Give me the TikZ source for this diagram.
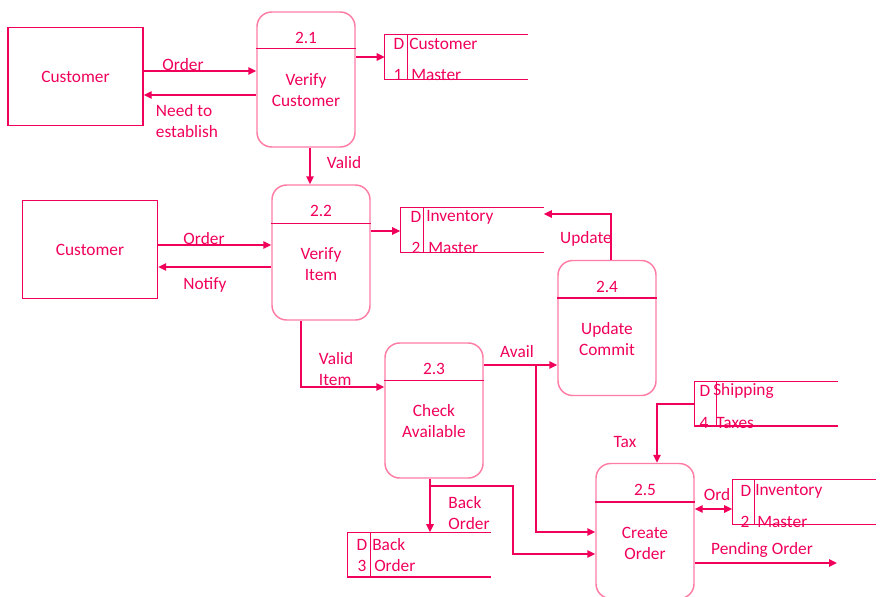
\documentclass[tikz,border=0pt]{standalone}
\usepackage{fontspec}
\setmainfont{Carlito}
\usetikzlibrary{arrows.meta,calc}

\definecolor{dfdpink}{RGB}{240,0,90}
\definecolor{procpink}{RGB}{255,125,165}

\tikzset{
  every node/.style={text=dfdpink, font=\fontsize{13pt}{15.75pt}\selectfont},
  ext/.style={rectangle, draw=dfdpink, line width=1.1pt, minimum width=101.25pt, minimum height=73.5pt},
  proc/.style={rectangle, rounded corners=11pt, draw=procpink, line width=1.1pt, minimum width=73.5pt, minimum height=101.25pt},
  store/.style={rectangle, inner sep=0pt, minimum width=107.25pt, minimum height=33pt},
  ptext/.style={align=center, inner sep=0pt, yshift=-0.75pt},
  stext/.style={anchor=west, inner sep=0pt, yshift=-0.75pt},
  lbl/.style={align=left, inner sep=0pt, yshift=-0.75pt},
  line/.style={draw=dfdpink, line width=1.1pt},
  flow/.style={line, -{Triangle[length=6pt,width=5.5pt]}},
}

\begin{document}
\begin{tikzpicture}[x=0.75pt, y=-0.75pt]
\clip (0,0) rectangle (884,596);

% external entities
\node[ext] (e1) at (75.5,76.5) {Customer};
\node[ext] (e2) at (90,249.5) {Customer};

% processes
\node[proc] (p1) at (306,79.5) {};
\node[proc] (p2) at (321,252.5) {};
\node[proc] (p3) at (434,410.5) {};
\node[proc] (p4) at (607,328) {};
\node[proc] (p5) at (645,531) {};
\node[ptext] (p1n) at ($(p1.north)+(0,26)$) {2.1};
\node[ptext] (p2n) at ($(p2.north)+(0,26)$) {2.2};
\node[ptext] (p3n) at ($(p3.north)+(0,26)$) {2.3};
\node[ptext] (p4n) at ($(p4.north)+(0,26)$) {2.4};
\node[ptext] (p5n) at ($(p5.north)+(0,26)$) {2.5};
\node[ptext] (p1t) at ($(p1.north)+(0,78)$) {Verify\\Customer};
\node[ptext] (p2t) at ($(p2.north)+(0,79)$) {Verify\\Item};
\node[ptext] (p3t) at ($(p3.north)+(0,78)$) {Check\\Available};
\node[ptext] (p4t) at ($(p4.north)+(0,78)$) {Update\\Commit};
\node[ptext] (p5t) at ($(p5.north)+(0,80)$) {Create\\Order};
\draw[line] ($(p1.north west)+(0,37)$) -- ($(p1.north east)+(0,37)$);
\draw[line] ($(p2.north west)+(0,39)$) -- ($(p2.north east)+(0,39)$);
\draw[line] ($(p3.north west)+(0,38)$) -- ($(p3.north east)+(0,38)$);
\draw[line] ($(p4.north west)+(0,38)$) -- ($(p4.north east)+(0,38)$);
\draw[line] ($(p5.north west)+(0,39)$) -- ($(p5.north east)+(0,39)$);

% data stores
\node[store] (d1) at (456.5,57) {};
\node[store] (d2) at (472,230) {};
\node[store] (d3) at (419,554.5) {};
\node[store] (d4) at (766,403.5) {};
\node[store] (d5) at (804,502) {};
\draw[line] (d1.north east) -- (d1.north west) -- (d1.south west) -- (d1.south east);
\draw[line] (d2.north east) -- (d2.north west) -- (d2.south west) -- (d2.south east);
\draw[line] (d3.north east) -- (d3.north west) -- (d3.south west) -- (d3.south east);
\draw[line] (d4.north east) -- (d4.north west) -- (d4.south west) -- (d4.south east);
\draw[line] (d5.north east) -- (d5.north west) -- (d5.south west) -- (d5.south east);
\draw[line] ($(d1.north west)+(23,0)$) -- ($(d1.south west)+(23,0)$);
\draw[line] ($(d2.north west)+(23,0)$) -- ($(d2.south west)+(23,0)$);
\draw[line] ($(d3.north west)+(23,0)$) -- ($(d3.south west)+(23,0)$);
\draw[line] ($(d4.north west)+(22,0)$) -- ($(d4.south west)+(22,0)$);
\draw[line] ($(d5.north west)+(22,0)$) -- ($(d5.south west)+(22,0)$);

\node[ptext] (d1a) at (399,43) {D};
\node[ptext] (d1b) at (398,74) {1};
\node[stext] (d1c) at (409,43) {Customer};
\node[stext] (d1d) at (411,74) {Master};
\node[ptext] (d2a) at (416,216) {D};
\node[ptext] (d2b) at (416,247) {2};
\node[stext] (d2c) at (426,216) {Inventory};
\node[stext] (d2d) at (428,247) {Master};
\node[ptext] (d3a) at (362,544) {D};
\node[ptext] (d3b) at (362,565) {3};
\node[stext] (d3c) at (372,544) {Back};
\node[stext] (d3d) at (374,565) {Order};
\node[ptext] (d4a) at (705,390) {D};
\node[ptext] (d4b) at (704,422) {4};
\node[stext] (d4c) at (713,390) {Shipping};
\node[stext] (d4d) at (716,422) {Taxes};
\node[ptext] (d5a) at (746,490) {D};
\node[ptext] (d5b) at (745,521) {2};
\node[stext] (d5c) at (755,490) {Inventory};
\node[stext] (d5d) at (757,521) {Master};

% flows
\coordinate (a1) at (536,365);
\coordinate (b1) at (430,486);
\coordinate (o1) at (837,563);
\draw[flow] (e1.east |- 0,71) -- (p1.west |- 0,71);
\draw[flow] (p1.west |- 0,95) -- (e1.east |- 0,95);
\draw[flow] (p1.east |- 0,57) -- (d1.west |- 0,57);
\draw[flow] (p1.south -| 310,0) -- (p2.north -| 310,0);
\draw[flow] (e2.east |- 0,245) -- (p2.west |- 0,245);
\draw[flow] (p2.west |- 0,267) -- (e2.east |- 0,267);
\draw[flow] (p2.east |- 0,231) -- (d2.west |- 0,231);
\draw[flow] (p4.north -| 611,0) |- (d2.east |- 0,214);
\draw[flow] (p2.south -| 301,0) |- (p3.west |- 0,387);
\draw[flow] (p3.east |- 0,365) -- (p4.west |- 0,365);
\draw[flow] (a1) |- (p5.west |- 0,532);
\draw[flow] (p3.south -| 430,0) -- (d3.north -| 430,0);
\draw[flow] (b1) -| (513,520) |- (p5.west |- 0,554);
\draw[flow] (d4.west |- 0,404) -| (p5.north -| 657,0);
\draw[line, {Triangle[length=6pt,width=5.5pt]}-{Triangle[length=6pt,width=5.5pt]}] (p5.east |- 0,509) -- (d5.west |- 0,509);
\draw[flow] (p5.east |- 0,563) -- (o1);

% flow labels
\node[lbl] (l1) at (183,64) {Order};
\node[lbl] (l2) at (187,120.5) {Need to\\establish};
\node[lbl] (l3) at (344,162) {Valid};
\node[lbl] (l4) at (204,238) {Order};
\node[lbl] (l5) at (205,284) {Notify};
\node[lbl] (l6) at (586,238) {Update};
\node[lbl] (l7) at (336,368.5) {Valid\\Item};
\node[lbl] (l8) at (517,351) {Avail};
\node[lbl] (l9) at (469,512.5) {Back\\Order};
\node[lbl] (l10) at (625,441) {Tax};
\node[lbl] (l11) at (717,494) {Ord};
\node[lbl] (l12) at (762,549) {Pending Order};
\end{tikzpicture}
\end{document}
